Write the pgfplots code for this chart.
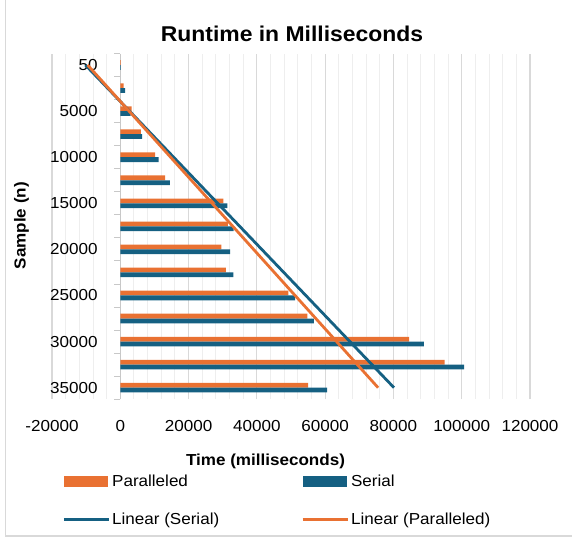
\documentclass[border=0pt]{standalone}
\usepackage{pgfplots}
\pgfplotsset{compat=1.18}
\usepackage{fontspec}
\setmainfont{Liberation Sans}[FakeStretch=1.07]
\definecolor{orangeC}{HTML}{E97132}
\definecolor{blueC}{HTML}{156082}
\definecolor{gridmajor}{HTML}{D9D9D9}
\definecolor{gridminor}{HTML}{EEEEEE}
\definecolor{axisgray}{HTML}{C8C8C8}
\definecolor{framegray}{HTML}{D9D9D9}
\newcommand{\fs}{\fontsize{16}{19}\selectfont}
\begin{document}
\begin{tikzpicture}
\path[use as bounding box] (0,0) rectangle (572bp,-539bp);
\draw[framegray, line width=1.5bp] (5.5bp,0) -- (5.5bp,-536bp) -- (572bp,-536bp);
\begin{axis}[
  at={(52bp,-399.2bp)}, anchor=south west,
  scale only axis, width=478bp, height=345.7bp,
  xmin=-20000, xmax=120000, ymin=0.5, ymax=15.5,
  axis line style={draw=none},
  scaled x ticks=false,
  xtick={-20000,0,20000,40000,60000,80000,100000,120000},
  xticklabels={-20000,0,20000,40000,60000,80000,100000,120000},
  minor x tick num=4,
  xmajorgrids, xminorgrids,
  major grid style={draw=gridmajor, line width=1.1bp},
  minor grid style={draw=gridminor, line width=0.9bp},
  tick style={draw=none},
  ytick={1,3,5,7,9,11,13,15},
  yticklabels={35000,30000,25000,20000,15000,10000,5000,50},
  ticklabel style={font=\fs},
  yticklabel style={inner sep=0pt, anchor=east, xshift=50bp},
  xticklabel style={inner sep=0pt, anchor=north, yshift=-20.5bp},
  xbar, bar width=4.8bp,
  legend columns=2,
  legend cell align=left,
  legend style={draw=none, fill=none, font=\fs, at={(axis description cs:0.015,-0.207)}, anchor=north west,
    row sep=21bp, /tikz/every even column/.append style={column sep=80bp}},
]
\pgfplotsinvokeforeach{0.5,1.5,...,15.5}{\draw[axisgray, line width=0.9bp] (axis cs:0,#1) -- ([xshift=-6bp]axis cs:0,#1);}
\draw[axisgray, line width=1.1bp] (axis cs:0,0.5) -- (axis cs:0,15.5);
\addplot[fill=orangeC, draw=none, bar shift=2.4bp,
  legend image code/.code={\fill[orangeC] (0bp,-5.5bp) rectangle (44bp,5.5bp);}]
  coordinates {(150,15) (1000,14) (3300,13) (6000,12) (10200,11) (13100,10) (30200,9) (31500,8)
               (29600,7) (30900,6) (49200,5) (54800,4) (84600,3) (95000,2) (55000,1)};
\addlegendentry{Paralleled}
\addplot[fill=blueC, draw=none, bar shift=-2.4bp,
  legend image code/.code={\fill[blueC] (0bp,-5.5bp) rectangle (44bp,5.5bp);}]
  coordinates {(200,15) (1400,14) (3000,13) (6400,12) (11200,11) (14500,10) (31400,9) (33200,8)
               (32200,7) (33100,6) (51200,5) (56700,4) (88900,3) (100700,2) (60600,1)};
\addlegendentry{Serial}
\addplot[blueC, line width=2.8bp, sharp plot, mark=none,
  legend image code/.code={\draw[blueC, line width=2.8bp] (0bp,0bp) -- (45bp,0bp);}]
  coordinates {(-10200,15) (80165,1)};
\addlegendentry{Linear (Serial)}
\addplot[orangeC, line width=2.8bp, sharp plot, mark=none,
  legend image code/.code={\draw[orangeC, line width=2.8bp] (0bp,0bp) -- (45bp,0bp);}]
  coordinates {(-9570,15) (75510,1)};
\addlegendentry{Linear (Paralleled)}
\end{axis}
\node[font=\bfseries\fontsize{21.5}{26}\selectfont, anchor=base] at (292bp,-41bp) {Runtime in Milliseconds};
\node[font=\bfseries\fs, anchor=base] at (265.5bp,-465bp) {Time (milliseconds)};
\node[font=\bfseries\fs, rotate=90] at (21.5bp,-225.7bp) {Sample (n)};
\end{tikzpicture}
\end{document}
